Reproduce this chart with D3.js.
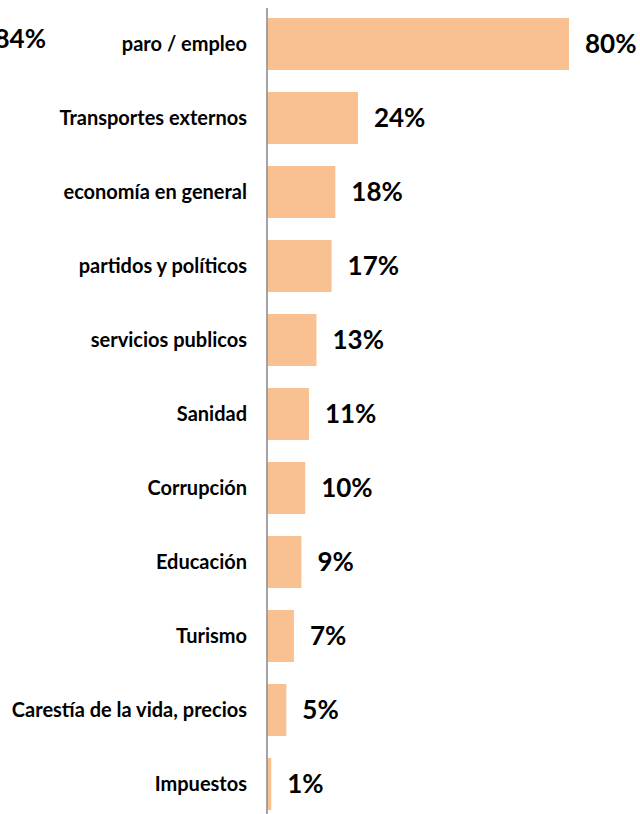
<!DOCTYPE html>
<html><head><meta charset="utf-8">
<script src="https://cdn.jsdelivr.net/npm/d3@7"></script>
<style>body{margin:0;background:#fff}svg{display:block}</style>
</head><body>
<svg id="c" width="640" height="814"></svg>
<script>
const categories = ["paro / empleo","Transportes externos","economía en general","partidos y políticos","servicios publicos","Sanidad","Corrupción","Educación","Turismo","Carestía de la vida, precios","Impuestos"];
const values = [80,24,18,17,13,11,10,9,7,5,1];
const strayLabel = "84%";

const svg = d3.select("#c");
const font = "Lato, 'Open Sans', sans-serif";
const x = d3.scaleLinear().domain([0,80]).range([267.5,569]);
const y = d3.scaleBand().domain(categories).range([7, 7+74*11]).paddingInner(22/74).paddingOuter(11/74);

svg.selectAll("rect.bar").data(categories).join("rect")
  .attr("class","bar")
  .attr("x", x(0))
  .attr("y", d=>y(d))
  .attr("width", (d,i)=>x(values[i])-x(0))
  .attr("height", y.bandwidth())
  .attr("fill","#F9C091");

svg.append("line").attr("x1",267).attr("x2",267).attr("y1",8).attr("y2",814)
  .attr("stroke","#868686").attr("stroke-width",1.5);

svg.selectAll("text.cat").data(categories).join("text")
  .attr("class","cat")
  .attr("x",247).attr("y",d=>y(d)+y.bandwidth()/2)
  .attr("dy","0.35em")
  .attr("text-anchor","end")
  .attr("font-family",font).attr("font-weight","bold").attr("font-size",20)
  .attr("fill","#000")
  .text(d=>d);

svg.selectAll("text.val").data(categories).join("text")
  .attr("class","val")
  .attr("x",(d,i)=>x(values[i])+16).attr("y",d=>y(d)+y.bandwidth()/2)
  .attr("dy","0.35em")
  .attr("font-family",font).attr("font-weight","bold").attr("font-size",26)
  .attr("fill","#000")
  .text((d,i)=>values[i]+"%");

svg.append("text").attr("x",46).attr("y",48).attr("text-anchor","end")
  .attr("font-family",font).attr("font-weight","bold").attr("font-size",26)
  .text(strayLabel);
</script>
</body></html>
